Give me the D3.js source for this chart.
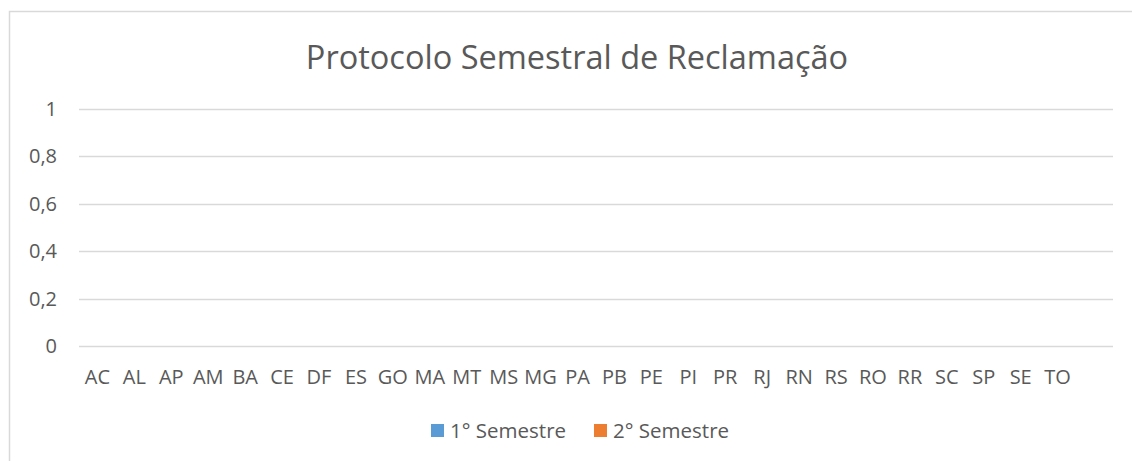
<!DOCTYPE html>
<html>
<head>
<meta charset="utf-8">
<script src="https://cdn.jsdelivr.net/npm/d3@7"></script>
<style>
  body { margin: 0; background: #fff; }
  text { font-family: "Open Sans", "Noto Sans", sans-serif; fill: #595959; }
</style>
</head>
<body>
<div id="chart"></div>
<script>
var states = ["AC", "AL", "AP", "AM", "BA", "CE", "DF", "ES", "GO", "MA", "MT", "MS", "MG", "PA",
    "PB", "PE", "PI", "PR", "RJ", "RN", "RS", "RO", "RR", "SC", "SP", "SE", "TO", ""];
var series = ["1° Semestre", "2° Semestre"];
var semestre1 = [0, 0, 0, 0, 0, 0, 0, 0, 0, 0, 0, 0, 0, 0, 0, 0, 0, 0, 0, 0, 0, 0, 0, 0, 0, 0, 0, 0];
var semestre2 = [0, 0, 0, 0, 0, 0, 0, 0, 0, 0, 0, 0, 0, 0, 0, 0, 0, 0, 0, 0, 0, 0, 0, 0, 0, 0, 0, 0];
var yTicks = [0, 0.2, 0.4, 0.6, 0.8, 1];
var colors = ["#5b9bd5", "#ed7d31"];

var width = 1132,
    height = 461,
    margin = { left: 79, top: 109, right: 19, bottom: 115 };

var svg = d3.select('#chart')
    .append('svg')
    .attr("width", width)
    .attr("height", height);

// chart area border (only top and left edges are inside the picture)
svg.append('path')
    .attr('d', 'M9.5,' + height + 'V11.5H' + width)
    .attr('fill', 'none')
    .attr('stroke', '#d9d9d9')
    .attr('stroke-width', 1.5);

svg.append('text')
    .attr('x', 577)
    .attr('y', 69)
    .attr('text-anchor', 'middle')
    .style('font-size', '32.5px')
    .text('Protocolo Semestral de Reclamação');

var x = d3.scaleBand()
    .domain(states)
    .range([margin.left, width - margin.right]);

var y = d3.scaleLinear()
    .domain([0, 1])
    .range([height - margin.bottom, margin.top]);

var inner = d3.scaleBand()
    .domain(series)
    .range([0, x.bandwidth()])
    .paddingOuter(0.3);

// gridlines
svg.append('g')
    .selectAll('line')
    .data(yTicks)
    .enter()
    .append('line')
    .attr('x1', margin.left)
    .attr('x2', width - margin.right)
    .attr('y1', function (d) { return Math.round(y(d)) + 0.5; })
    .attr('y2', function (d) { return Math.round(y(d)) + 0.5; })
    .attr('stroke', '#d9d9d9')
    .attr('stroke-width', 1.5);

// y labels
svg.append('g')
    .selectAll('text')
    .data(yTicks)
    .enter()
    .append('text')
    .attr('x', 57)
    .attr('y', function (d) { return y(d); })
    .attr('dy', '.35em')
    .attr('text-anchor', 'end')
    .style('font-size', '20px')
    .text(function (d) { return String(d).replace('.', ','); });

// bars (all zero)
var seriesData = [semestre1, semestre2];
seriesData.forEach(function (vals, si) {
    svg.append('g')
        .selectAll('rect')
        .data(vals)
        .enter()
        .append('rect')
        .attr('x', function (d, i) { return x(states[i]) + inner(series[si]); })
        .attr('width', inner.bandwidth())
        .attr('y', function (d) { return y(d); })
        .attr('height', function (d) { return y(0) - y(d); })
        .attr('fill', colors[si]);
});

// x labels
svg.append('g')
    .selectAll('text')
    .data(states)
    .enter()
    .append('text')
    .attr('x', function (d) { return x(d) + x.bandwidth() / 2; })
    .attr('y', 384)
    .attr('text-anchor', 'middle')
    .style('font-size', '20px')
    .text(function (d) { return d; });

// legend
var legend = svg.append('g')
    .selectAll('g')
    .data(series)
    .enter()
    .append('g')
    .attr('transform', function (d, i) { return 'translate(' + (431 + i * 163) + ',424)'; });

legend.append('rect')
    .attr('width', 13)
    .attr('height', 13)
    .attr('fill', function (d, i) { return colors[i]; });

legend.append('text')
    .attr('x', 19)
    .attr('y', 14)
    .style('font-size', '20.5px')
    .text(function (d) { return d; });
</script>
</body>
</html>
